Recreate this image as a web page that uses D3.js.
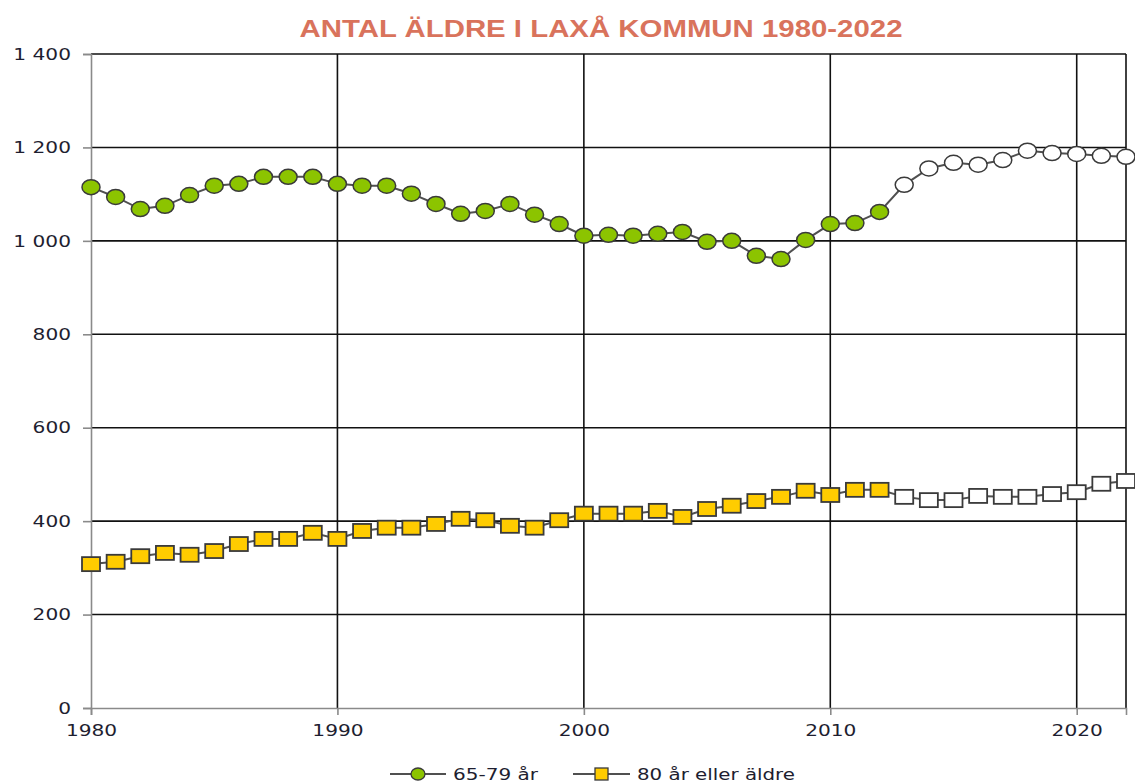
<!DOCTYPE html>
<html><head><meta charset="utf-8">
<script src="https://cdn.jsdelivr.net/npm/d3@7"></script>
<style>body{margin:0;background:#fff}svg{display:block}</style>
</head><body>
<script>
const years = d3.range(1980, 2023);
const age6579 = [1115,1094,1068,1075,1098,1118,1122,1137,1137,1137,
  1122,1118,1118,1101,1079,1058,1064,1079,1056,1036,
  1011,1013,1011,1015,1019,998,1000,968,961,1002,
  1036,1038,1062,1120,1155,1167,1163,1173,1193,1188,
  1186,1182,1180];
const age80 = [308,313,325,332,328,336,351,362,362,375,
  362,379,386,386,394,405,402,390,386,402,
  416,416,416,422,409,426,433,443,452,465,
  456,467,467,452,445,445,454,452,452,458,
  462,480,486];
const projectionStart = 2013;
const yTicks = [0,200,400,600,800,1000,1200,1400];
const xTicks = [1980,1990,2000,2010,2020];
const title = "ANTAL ÄLDRE I LAXÅ KOMMUN 1980-2022";
const seriesNames = ["65-79 år", "80 år eller äldre"];

const W = 1135, H = 784;
const svg = d3.select("body").append("svg").attr("width", W).attr("height", H);
const x = d3.scaleLinear().domain([1980, 2022]).range([91, 1126]);
const y = d3.scaleLinear().domain([0, 1400]).range([708, 54]);
const fmt = v => d3.format(",")(v).replace(/,/g, " ");
const STRETCH = 1.22;
function stretch(sel, f) {
  sel.each(function(){ const l = this.getComputedTextLength(); d3.select(this).attr("textLength", l * (f||STRETCH)).attr("lengthAdjust","spacingAndGlyphs"); });
}

// gridlines
svg.append("g").selectAll("line").data(yTicks.filter(d => d > 0)).join("line")
  .attr("x1", x(1980)).attr("x2", x(2022)).attr("y1", d => y(d)).attr("y2", d => y(d))
  .attr("stroke", "#111").attr("stroke-width", 1.6);
svg.append("g").selectAll("line").data(xTicks.filter(d => d > 1980).concat([2022])).join("line")
  .attr("x1", d => x(d)).attr("x2", d => x(d)).attr("y1", y(0)).attr("y2", y(1400))
  .attr("stroke", "#111").attr("stroke-width", 1.6);

// axes
const yAxis = svg.append("g").attr("transform", `translate(${x(1980)},0)`)
  .call(d3.axisLeft(y).tickValues(yTicks).tickFormat(fmt).tickSize(8).tickPadding(12));
const xAxis = svg.append("g").attr("transform", `translate(0,${y(0)})`)
  .call(d3.axisBottom(x).tickValues(xTicks).tickFormat(d3.format("d")).tickSize(7).tickPadding(9));
[yAxis, xAxis].forEach(a => {
  a.select(".domain").attr("stroke", "#8a8a8a").attr("stroke-width", 1.6);
  a.selectAll(".tick line").attr("stroke", "#8a8a8a").attr("stroke-width", 1.6);
  a.selectAll("text").attr("fill", "#1e1e30").attr("font-family", "DejaVu Sans").attr("font-size", 16.5);
});
stretch(yAxis.selectAll("text"));
stretch(xAxis.selectAll("text"));

// title
svg.append("text").attr("x", 601).attr("y", 37).attr("text-anchor", "middle")
  .attr("font-family", "Liberation Sans").attr("font-weight", "bold").attr("font-size", 23.5)
  .attr("fill", "#d9735c").text(title)
  .each(function(){ d3.select(this).attr("textLength", 603).attr("lengthAdjust","spacingAndGlyphs"); });

const line = d3.line().x((d, i) => x(years[i])).y(d => y(d));
const lineColor = "#505050", markStroke = "#3a3a3a";

svg.append("path").datum(age6579).attr("d", line).attr("fill", "none").attr("stroke", lineColor).attr("stroke-width", 2);
svg.append("path").datum(age80).attr("d", line).attr("fill", "none").attr("stroke", lineColor).attr("stroke-width", 2);

svg.append("g").selectAll("ellipse").data(age6579).join("ellipse")
  .attr("cx", (d, i) => x(years[i])).attr("cy", d => y(d)).attr("rx", 9).attr("ry", 7.5)
  .attr("fill", (d, i) => years[i] >= projectionStart ? "#fff" : "#8cc400")
  .attr("stroke", markStroke).attr("stroke-width", 1.5);

svg.append("g").selectAll("rect").data(age80).join("rect")
  .attr("x", (d, i) => x(years[i]) - 9).attr("y", d => y(d) - 7).attr("width", 18).attr("height", 14)
  .attr("fill", (d, i) => years[i] >= projectionStart ? "#fff" : "#ffcc00")
  .attr("stroke", markStroke).attr("stroke-width", 1.8);

// legend
const lg = svg.append("g");
const ly = 774;
lg.append("line").attr("x1", 390).attr("x2", 446).attr("y1", ly).attr("y2", ly).attr("stroke", lineColor).attr("stroke-width", 2);
lg.append("ellipse").attr("cx", 418).attr("cy", ly).attr("rx", 7).attr("ry", 6).attr("fill", "#8cc400").attr("stroke", markStroke).attr("stroke-width", 1.3);
lg.append("text").attr("x", 453).attr("y", ly + 6).attr("font-family", "DejaVu Sans").attr("font-size", 15.5).attr("fill", "#1e1e30").text(seriesNames[0])
  .each(function(){ d3.select(this).attr("textLength", 85).attr("lengthAdjust","spacingAndGlyphs"); });
lg.append("line").attr("x1", 573).attr("x2", 630).attr("y1", ly).attr("y2", ly).attr("stroke", lineColor).attr("stroke-width", 2);
lg.append("rect").attr("x", 595).attr("y", ly - 6).attr("width", 13).attr("height", 12).attr("fill", "#ffcc00").attr("stroke", markStroke).attr("stroke-width", 1.3);
lg.append("text").attr("x", 637).attr("y", ly + 6).attr("font-family", "DejaVu Sans").attr("font-size", 15.5).attr("fill", "#1e1e30").text(seriesNames[1])
  .each(function(){ d3.select(this).attr("textLength", 158).attr("lengthAdjust","spacingAndGlyphs"); });
</script>
</body></html>
